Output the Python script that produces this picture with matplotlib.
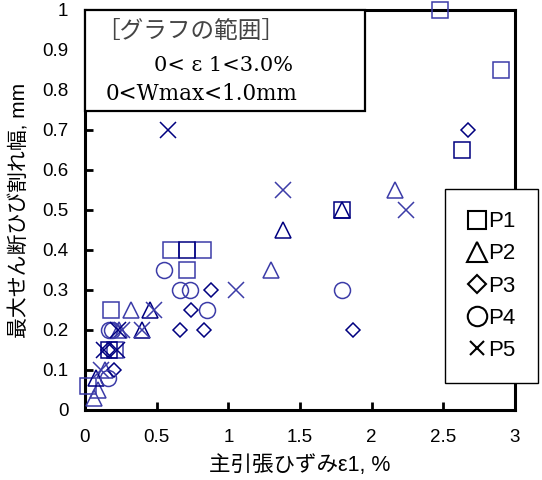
import matplotlib
matplotlib.use("Agg")
import matplotlib.pyplot as plt
from matplotlib.lines import Line2D
from matplotlib.patches import Rectangle
from matplotlib.ticker import FuncFormatter

plt.rcParams['font.family'] = ['Liberation Sans', 'Noto Sans CJK JP']

DARK = '#000080'
LIGHT = '#3c3ca8'

# P1 (squares)
p1_dark_x = [2.63, 1.79, 0.71, 0.17]
p1_dark_y = [0.65, 0.50, 0.40, 0.15]
p1_light_x = [2.48, 2.90, 0.60, 0.82, 0.71, 0.18, 0.02, 0.21]
p1_light_y = [1.00, 0.85, 0.40, 0.40, 0.35, 0.25, 0.06, 0.15]

# P2 (triangles)
p2_dark_x = [1.38, 1.79, 0.45, 0.40, 0.08]
p2_dark_y = [0.45, 0.50, 0.25, 0.20, 0.08]
p2_light_x = [2.16, 1.30, 0.32, 0.24, 0.09, 0.06, 0.14]
p2_light_y = [0.55, 0.35, 0.25, 0.20, 0.05, 0.03, 0.10]

# P3 (diamonds)
p3_dark_x = [2.67, 1.87, 0.88, 0.74, 0.66, 0.83, 0.16, 0.20]
p3_dark_y = [0.70, 0.20, 0.30, 0.25, 0.20, 0.20, 0.15, 0.10]

# P4 (circles)
p4_light_x = [1.79, 0.55, 0.66, 0.73, 0.85, 0.17, 0.19, 0.16]
p4_light_y = [0.30, 0.35, 0.30, 0.30, 0.25, 0.20, 0.20, 0.08]

# P5 (crosses)
p5_dark_x = [0.58, 0.13, 0.22, 0.23]
p5_dark_y = [0.70, 0.15, 0.15, 0.20]
p5_light_x = [1.38, 2.24, 1.05, 0.48, 0.40, 0.26, 0.11]
p5_light_y = [0.55, 0.50, 0.30, 0.25, 0.20, 0.20, 0.10]

x_ticks = [0, 0.5, 1, 1.5, 2, 2.5, 3]
y_ticks = [0, 0.1, 0.2, 0.3, 0.4, 0.5, 0.6, 0.7, 0.8, 0.9, 1]
legend_labels = ['P1', 'P2', 'P3', 'P4', 'P5']

fig = plt.figure(figsize=(5.42, 4.8), dpi=100)
ax = fig.add_axes([85 / 542, 70 / 480, 430 / 542, 400 / 480])

marker_style = {
    's': dict(ms=11.5),
    '^': dict(ms=12),
    'D': dict(ms=7.6),
    'o': dict(ms=11.5),
    'x': dict(ms=12),
}


def scatter(x, y, marker, color):
    ax.plot(x, y, linestyle='none', marker=marker, mfc='none', mec=color,
            mew=1.1, clip_on=False, zorder=5, **marker_style[marker])


scatter(p1_light_x, p1_light_y, 's', LIGHT)
scatter(p1_dark_x, p1_dark_y, 's', DARK)
scatter(p2_light_x, p2_light_y, '^', LIGHT)
scatter(p2_dark_x, p2_dark_y, '^', DARK)
scatter(p3_dark_x, p3_dark_y, 'D', DARK)
scatter(p4_light_x, p4_light_y, 'o', LIGHT)
scatter(p5_light_x, p5_light_y, 'x', LIGHT)
scatter(p5_dark_x, p5_dark_y, 'x', DARK)

ax.set_xlim(0, 3)
ax.set_ylim(0, 1)
ax.set_xticks(x_ticks)
ax.set_yticks(y_ticks)
fmt = FuncFormatter(lambda v, pos: '%g' % v)
ax.xaxis.set_major_formatter(fmt)
ax.yaxis.set_major_formatter(fmt)
ax.tick_params(direction='in', length=6, width=2, labelsize=13.5)
ax.tick_params(axis='x', pad=14)
ax.tick_params(axis='y', pad=12)
for sp in ax.spines.values():
    sp.set_linewidth(2.2)

ax.set_xlabel('主引張ひずみε1, %', fontsize=15.5, labelpad=6)
ax.set_ylabel('最大せん断ひび割れ幅, mm', fontsize=15)
ax.yaxis.set_label_coords(-0.128, 0.5)

# range note in the upper-left corner
ax.add_patch(Rectangle((0, 0.7475), 0.651, 0.2525, transform=ax.transAxes,
                       facecolor='white', edgecolor='black', lw=1.6,
                       zorder=6, clip_on=False))
note_font = ['DejaVu Serif', 'Noto Sans CJK JP']
ax.text(0.245, 0.945, '［グラフの範囲］', transform=ax.transAxes, ha='center',
        va='center', fontsize=17, family=note_font, color='#444444', zorder=7)
ax.text(0.323, 0.862, '0< ε 1<3.0%', transform=ax.transAxes, ha='center',
        va='center', fontsize=15, family=note_font, zorder=7)
ax.text(0.27, 0.79, '0<Wmax<1.0mm', transform=ax.transAxes, ha='center',
        va='center', fontsize=15.5, family=note_font, zorder=7)

handles = [
    Line2D([], [], linestyle='none', marker=m, mfc='none', mec='black',
           mew=1.5, ms=s, label=lab)
    for m, s, lab in zip(['s', '^', 'D', 'o', 'x'], [13, 14, 9, 14, 10],
                         legend_labels)
]
leg = fig.legend(handles=handles, loc='center',
                 bbox_to_anchor=(491.5 / 542, 1 - 286 / 480),
                 prop=dict(family='Liberation Sans', size=16),
                 frameon=True, fancybox=False, framealpha=1,
                 edgecolor='black', handlelength=0.9, handletextpad=0.05,
                 labelspacing=0.5, borderpad=1.0, borderaxespad=0)
leg.get_frame().set_linewidth(1.0)

fig.savefig('out.png', dpi=100)
